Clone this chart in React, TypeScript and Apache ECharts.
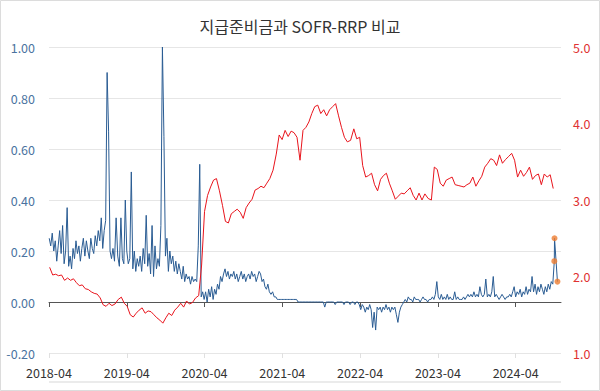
import React, { useEffect, useRef } from "react";
import * as echarts from "echarts";

const TITLE = "지급준비금과 SOFR-RRP 비교";

// SOFR - RRP spread (%p), weekly from spreadStart
const spreadStart = "2018-04-02";
const spreadStepDays = 7;
const spreadWeekly = [
  // 2018-04 .. 2019-03
  0.25, 0.22, 0.27, 0.20,
  0.24, 0.16, 0.22, 0.28, 0.19,
  0.30, 0.15, 0.20, 0.37,
  0.14, 0.18, 0.13, 0.21,
  0.17, 0.24, 0.19, 0.22, 0.16,
  0.21, 0.25, 0.18, 0.24,
  0.20, 0.17, 0.25, 0.21, 0.19,
  0.26, 0.22, 0.28, 0.24,
  0.33, 0.21, 0.28, 0.32,
  0.90, 0.67, 0.20, 0.17, 0.21,
  0.16, 0.33, 0.18, 0.14,
  0.33, 0.17, 0.15, 0.40,
  // 2019-04 .. 2020-03
  0.20, 0.15, 0.17, 0.51,
  0.13, 0.20, 0.12, 0.17, 0.14,
  0.18, 0.12, 0.21, 0.15,
  0.34, 0.14, 0.19, 0.11,
  0.30, 0.10, 0.22, 0.13, 0.17,
  0.14, 0.30, 1.00, 0.65,
  0.18, 0.25, 0.12, 0.20, 0.15,
  0.18, 0.12, 0.16, 0.11,
  0.15, 0.12, 0.09, 0.14,
  0.08, 0.11, 0.09, 0.10, 0.07,
  0.10, 0.08, 0.09, 0.08,
  0.22, 0.54, 0.02, 0.04,
  // 2020-04 .. 2021-03
  0.01, 0.04, 0.00, 0.05,
  0.02, 0.06, 0.01, 0.05, 0.03,
  0.07, 0.05, 0.10, 0.08,
  0.11, 0.13, 0.10, 0.12,
  0.09, 0.11, 0.10, 0.12, 0.09,
  0.11, 0.08, 0.10, 0.12,
  0.09, 0.11, 0.08, 0.10, 0.11,
  0.09, 0.12, 0.10, 0.11,
  0.08, 0.10, 0.12, 0.11,
  0.08, 0.09, 0.06, 0.05, 0.07,
  0.04, 0.03, 0.04, 0.02,
  0.02, 0.01, 0.01, 0.01,
  // 2021-04 .. 2022-03
  0.01, 0.01, 0.01, 0.01,
  0.01, 0.01, 0.01, 0.01, 0.01,
  0.01, 0.01, 0.00, 0.00,
  0.00, 0.00, 0.00, 0.00,
  0.00, 0.00, 0.00, 0.00, 0.00,
  0.00, 0.00, 0.00, 0.00,
  0.00, 0.00, 0.00, -0.02, 0.00,
  0.00, 0.00, 0.00, 0.00,
  0.00, -0.01, 0.00, 0.00,
  0.00, 0.00, 0.00, -0.01, 0.00,
  0.00, 0.00, -0.01, 0.00,
  0.00, -0.01, 0.00, 0.00,
  // 2022-04 .. 2023-03
  -0.01, -0.03, -0.01, -0.02,
  -0.04, -0.02, -0.03, -0.01, -0.03,
  -0.10, -0.04, -0.11, -0.02,
  -0.03, -0.02, -0.04, -0.02,
  -0.03, -0.01, -0.03, -0.02, -0.04,
  -0.02, -0.03, -0.02, -0.05,
  -0.08, -0.04, -0.02, -0.01, 0.00,
  0.01, 0.00, 0.02, 0.01,
  0.01, 0.00, 0.02, 0.01,
  0.01, 0.01, 0.00, 0.01, 0.02,
  0.01, 0.01, 0.00, 0.01,
  0.01, 0.02, 0.01, 0.03,
  // 2023-04 .. 2024-03
  0.08, 0.02, 0.01, 0.03,
  0.01, 0.02, 0.01, 0.03, 0.01,
  0.02, 0.01, 0.01, 0.04,
  0.01, 0.02, 0.01, 0.01,
  0.01, 0.02, 0.01, 0.02, 0.03,
  0.02, 0.03, 0.02, 0.04,
  0.02, 0.03, 0.02, 0.06, 0.03,
  0.02, 0.03, 0.09, 0.02,
  0.03, 0.02, 0.04, 0.10,
  0.02, 0.03, 0.02, 0.01, 0.02,
  0.03, 0.02, 0.01, 0.02,
  0.02, 0.03, 0.02, 0.04,
  // 2024-04 .. 2024-09
  0.06, 0.02, 0.04, 0.03,
  0.05, 0.02, 0.04, 0.03, 0.06,
  0.03, 0.05, 0.04, 0.10,
  0.04, 0.07, 0.03, 0.06,
  0.04, 0.07, 0.05, 0.03, 0.06,
  0.04, 0.07, 0.05, 0.08, 0.07,
];
const spreadRecentDates = ["2024-09-30", "2024-10-01", "2024-10-15"];
const spreadRecentValues = [0.16, 0.25, 0.08];

// Reserve balances (trillion USD), every two weeks from reserveStart
const reserveStart = "2018-04-04";
const reserveStepDays = 14;
const reserveValues = [
  2.12, 2.02, 2.03, 2.01, 2.02, 1.95, 1.98, 1.95, 1.97, 1.92, 1.88, 1.89, 1.84,
  1.83, 1.80, 1.78, 1.77, 1.72, 1.63, 1.61, 1.65, 1.62, 1.64, 1.70, 1.73, 1.65,
  1.61, 1.50, 1.47, 1.52, 1.56, 1.59, 1.52, 1.55, 1.54, 1.50, 1.46, 1.43, 1.39,
  1.46, 1.52, 1.49, 1.56, 1.60, 1.65, 1.60, 1.68, 1.64, 1.66, 1.72, 1.75, 2.15,
  2.85, 3.06, 3.17, 3.26, 3.28, 3.12, 2.93, 2.72, 2.70, 2.82, 2.85, 2.88, 2.84,
  2.76, 2.90, 2.96, 3.01, 3.13, 3.15, 3.18, 3.16, 3.22, 3.28, 3.39, 3.60, 3.85,
  3.79, 3.91, 3.83, 3.90, 3.88, 3.82, 3.52, 3.91, 3.95, 4.02, 4.13, 4.22, 4.24,
  4.13, 4.18, 4.10, 4.18, 4.22, 4.26, 4.10, 3.95, 3.82, 3.76, 3.78, 3.93, 3.80,
  3.82, 3.45, 3.30, 3.32, 3.35, 3.20, 3.12, 3.27, 3.32, 3.35, 3.22, 3.12, 3.01,
  3.05, 3.09, 3.08, 3.12, 3.16, 3.06, 3.00, 3.09, 3.00, 3.08, 3.02, 3.00, 3.43,
  3.40, 3.22, 3.18, 3.26, 3.28, 3.30, 3.20, 3.19, 3.18, 3.17, 3.20, 3.22, 3.30,
  3.18, 3.25, 3.31, 3.43, 3.48, 3.54, 3.52, 3.45, 3.59, 3.48, 3.53, 3.57, 3.61,
  3.52, 3.30, 3.39, 3.31, 3.36, 3.43, 3.27, 3.32, 3.34, 3.20, 3.34, 3.30, 3.33,
  3.15,
];

const xTickLabels = ["2018-04", "2019-04", "2020-04", "2021-04", "2022-04", "2023-04", "2024-04"];
const xMaxMonths = 79;
const leftMin = -0.2;
const leftMax = 1.0;
const leftStep = 0.2;
const rightMin = 1;
const rightMax = 5;
const rightStep = 1;

const FONT = "'Noto Sans CJK KR', 'Noto Sans', sans-serif";

function parseDate(s: string): Date {
  const [y, m, d] = s.split("-").map(Number);
  return new Date(Date.UTC(y, m - 1, d));
}
function addDays(d: Date, n: number): Date {
  return new Date(d.getTime() + n * 86400000);
}
// months since 2018-04-01
function monthIndex(d: Date): number {
  const y = d.getUTCFullYear();
  const mo = d.getUTCMonth();
  const day = d.getUTCDate();
  const dim = new Date(Date.UTC(y, mo + 1, 0)).getUTCDate();
  return (y - 2018) * 12 + (mo - 3) + (day - 1) / dim;
}

export default function App() {
  const ref = useRef<HTMLDivElement>(null);
  useEffect(() => {
    document.body.style.margin = "0";
    if (!ref.current) return;
    const chart = echarts.init(ref.current, null, { renderer: "svg" });

    const s0 = parseDate(spreadStart);
    const spreadData: number[][] = spreadWeekly.map((v, i) => [
      monthIndex(addDays(s0, i * spreadStepDays)),
      v,
    ]);
    const recentData: number[][] = spreadRecentDates.map((d, i) => [
      monthIndex(parseDate(d)),
      spreadRecentValues[i],
    ]);
    const r0 = parseDate(reserveStart);
    const reserveData: number[][] = reserveValues.map((v, i) => [
      monthIndex(addDays(r0, i * reserveStepDays)),
      v,
    ]);
    const tickVals = xTickLabels.map((_, i) => i * 12);

    const option: any = {
      animation: false,
      backgroundColor: "#ffffff",
      textStyle: { fontFamily: FONT },
      title: {
        text: TITLE,
        left: "center",
        top: 13,
        textStyle: { fontFamily: FONT, fontSize: 16, fontWeight: "normal", color: "#333333" },
      },
      grid: { left: 49, right: 39, top: 47, bottom: 38, containLabel: false },
      xAxis: [
        {
          type: "value",
          min: 0,
          max: xMaxMonths,
          interval: 12,
          position: "bottom",
          axisLine: { show: true, onZero: true, lineStyle: { color: "#555555", width: 1 } },
          axisTick: { show: true, length: 5, customValues: tickVals, lineStyle: { color: "#555555" } },
          axisLabel: { show: false },
          splitLine: { show: false },
        },
        {
          type: "value",
          min: 0,
          max: xMaxMonths,
          interval: 12,
          position: "bottom",
          axisLine: { show: false, onZero: false },
          axisTick: { show: true, length: 5, customValues: tickVals, lineStyle: { color: "#e0e0e0" } },
          axisLabel: {
            show: true,
            margin: 13,
            color: "#333333",
            fontSize: 12.5,
            fontFamily: FONT,
            customValues: tickVals,
            formatter: (v: number) => xTickLabels[Math.round(v / 12)] ?? "",
          },
          splitLine: { show: false },
        },
      ],
      yAxis: [
        {
          type: "value",
          min: leftMin,
          max: leftMax,
          interval: leftStep,
          position: "left",
          axisLine: { show: false },
          axisTick: { show: false },
          axisLabel: {
            margin: 14,
            color: "#4a73a0",
            fontSize: 12.5,
            fontFamily: FONT,
            formatter: (v: number) => (Math.abs(v) < 1e-9 ? "0.00" : v.toFixed(2)),
          },
          splitLine: { show: true, lineStyle: { color: "#e6e6e6", width: 1 } },
        },
        {
          type: "value",
          min: rightMin,
          max: rightMax,
          interval: rightStep,
          position: "right",
          axisLine: { show: false },
          axisTick: { show: false },
          axisLabel: {
            margin: 12,
            color: "#e03232",
            fontSize: 12.5,
            fontFamily: FONT,
            formatter: (v: number) => v.toFixed(1),
          },
          splitLine: { show: false },
        },
      ],
      series: [
        {
          name: "SOFR-RRP",
          type: "line",
          xAxisIndex: 0,
          yAxisIndex: 0,
          data: spreadData.concat(recentData),
          showSymbol: false,
          symbol: "none",
          lineStyle: { color: "#2a5c93", width: 1 },
          itemStyle: { color: "#2a5c93" },
          z: 2,
        },
        {
          name: "지급준비금",
          type: "line",
          xAxisIndex: 0,
          yAxisIndex: 1,
          data: reserveData,
          showSymbol: false,
          symbol: "none",
          lineStyle: { color: "#e8141c", width: 1 },
          itemStyle: { color: "#e8141c" },
          z: 3,
        },
        {
          name: "최근",
          type: "scatter",
          xAxisIndex: 0,
          yAxisIndex: 0,
          data: recentData,
          symbolSize: 6,
          itemStyle: { color: "#ed7d31" },
          z: 4,
        },
      ],
      graphic: [
        {
          type: "rect",
          shape: { x: 0.5, y: 0.5, width: 599, height: 390 },
          style: { fill: "none", stroke: "#dcdcdc", lineWidth: 1 },
          silent: true,
        },
        {
          type: "line",
          shape: { x1: 49, y1: 382, x2: 561, y2: 382 },
          style: { stroke: "#ebebeb", lineWidth: 2 },
          silent: true,
        },
      ],
    };
    chart.setOption(option);
    return () => chart.dispose();
  }, []);
  return <div ref={ref} style={{ width: 600, height: 391 }} />;
}
